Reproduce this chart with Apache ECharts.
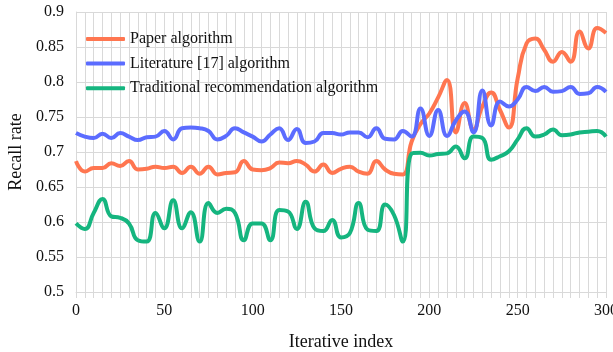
<!DOCTYPE html>
<html>
<head>
<meta charset="utf-8">
<script src="https://cdn.jsdelivr.net/npm/echarts@6/dist/echarts.min.js"></script>
<style>
html, body { margin: 0; padding: 0; background: #fff; }
#recallLine { width: 613px; height: 352px; }
</style>
</head>
<body>
<div id="recallLine"></div>
<script>
// x positions: iterative index, one point every 5
var iterIndex = [];
for (var i = 0; i <= 300; i += 5) iterIndex.push(i);

var seriesNames = ['Paper algorithm', 'Literature [17] algorithm', 'Traditional recommendation algorithm'];

var paperData = [
    0.687, 0.672, 0.677, 0.677, 0.684, 0.680, 0.687, 0.675, 0.676, 0.679,
    0.677, 0.679, 0.670, 0.679, 0.669, 0.679, 0.668, 0.670, 0.671, 0.687,
    0.675, 0.674, 0.677, 0.685, 0.684, 0.687, 0.682, 0.672, 0.682, 0.670,
    0.676, 0.679, 0.672, 0.669, 0.687, 0.675, 0.669, 0.668, 0.715, 0.740,
    0.755, 0.778, 0.803, 0.728, 0.770, 0.732, 0.765, 0.785, 0.760, 0.735,
    0.805, 0.855, 0.862, 0.846, 0.829, 0.843, 0.829, 0.872, 0.848, 0.877,
    0.870
];
var literatureData = [
    0.727, 0.722, 0.720, 0.726, 0.720, 0.727, 0.722, 0.717, 0.721, 0.722,
    0.730, 0.718, 0.734, 0.735, 0.734, 0.730, 0.718, 0.723, 0.734, 0.728,
    0.722, 0.715, 0.725, 0.734, 0.717, 0.733, 0.713, 0.715, 0.727, 0.727,
    0.725, 0.728, 0.728, 0.721, 0.734, 0.719, 0.718, 0.730, 0.722, 0.762,
    0.723, 0.760, 0.723, 0.745, 0.758, 0.728, 0.788, 0.738, 0.772, 0.765,
    0.775, 0.793, 0.787, 0.793, 0.786, 0.787, 0.793, 0.783, 0.784, 0.793,
    0.786
];
var traditionalData = [
    0.598, 0.590, 0.613, 0.633, 0.608, 0.606, 0.598, 0.574, 0.572, 0.613,
    0.591, 0.631, 0.591, 0.614, 0.572, 0.627, 0.613, 0.619, 0.613, 0.574,
    0.598, 0.598, 0.574, 0.617, 0.615, 0.590, 0.629, 0.591, 0.587, 0.603,
    0.578, 0.584, 0.627, 0.589, 0.587, 0.625, 0.610, 0.572, 0.698, 0.699,
    0.695, 0.697, 0.698, 0.708, 0.691, 0.722, 0.720, 0.689, 0.694, 0.701,
    0.718, 0.734, 0.722, 0.725, 0.732, 0.724, 0.725, 0.728, 0.729, 0.730,
    0.722
];

var yTickLabels = ['0.5', '0.55', '0.6', '0.65', '0.7', '0.75', '0.8', '0.85', '0.9'];

function pairs(vals) {
    return vals.map(function (v, k) { return [iterIndex[k], v]; });
}

var fontFam = '"Liberation Serif", "Times New Roman", serif';
var gridColor = '#d9d9d9';
var textColor = '#111';

var recallChart = echarts.init(document.getElementById('recallLine'));

var option = {
    animation: false,
    color: ['#ff7650', '#5b6cff', '#15b57f'],
    textStyle: { fontFamily: fontFam, color: textColor },
    grid: {
        left: 76,
        right: 7,
        top: 12,
        bottom: 60,
        outerBoundsMode: 'none'
    },
    legend: {
        orient: 'vertical',
        left: 86,
        top: 31,
        padding: 0,
        data: seriesNames,
        icon: 'roundRect',
        itemWidth: 39,
        itemHeight: 4,
        itemGap: 8.6,
        textStyle: {
            fontFamily: fontFam,
            fontSize: 16,
            color: textColor
        }
    },
    xAxis: {
        type: 'value',
        min: 0,
        max: 300,
        interval: 50,
        name: 'Iterative index',
        nameLocation: 'middle',
        nameGap: 41,
        nameTextStyle: { fontFamily: fontFam, fontSize: 18, color: textColor },
        axisLine: { show: true, lineStyle: { color: gridColor } },
        axisTick: { show: true, length: 6, lineStyle: { color: gridColor } },
        minorTick: { show: true, splitNumber: 10, length: 6, lineStyle: { color: gridColor } },
        splitLine: { show: true, lineStyle: { color: gridColor, width: 1 } },
        minorSplitLine: { show: true, lineStyle: { color: gridColor, width: 1 } },
        axisLabel: { margin: 11, fontFamily: fontFam, fontSize: 16, color: textColor }
    },
    yAxis: {
        type: 'value',
        min: 0.5,
        max: 0.9,
        interval: 0.05,
        name: 'Recall rate',
        nameLocation: 'middle',
        nameGap: 48,
        nameTextStyle: { fontFamily: fontFam, fontSize: 18, color: textColor },
        axisLine: { show: true, lineStyle: { color: gridColor } },
        axisTick: { show: false },
        splitLine: { show: true, lineStyle: { color: gridColor, width: 1 } },
        axisLabel: {
            margin: 12,
            fontFamily: fontFam,
            fontSize: 16,
            color: textColor,
            formatter: function (v) {
                return yTickLabels[Math.round((v - 0.5) / 0.05)];
            }
        }
    },
    series: [
        {
            name: seriesNames[0],
            type: 'line',
            data: pairs(paperData),
            smooth: 0.5,
            showSymbol: false,
            lineStyle: { width: 4, color: '#ff7650' }
        },
        {
            name: seriesNames[1],
            type: 'line',
            data: pairs(literatureData),
            smooth: 0.5,
            showSymbol: false,
            lineStyle: { width: 4, color: '#5b6cff' }
        },
        {
            name: seriesNames[2],
            type: 'line',
            data: pairs(traditionalData),
            smooth: 0.5,
            showSymbol: false,
            lineStyle: { width: 4, color: '#15b57f' }
        }
    ]
};

recallChart.setOption(option);
</script>
</body>
</html>
